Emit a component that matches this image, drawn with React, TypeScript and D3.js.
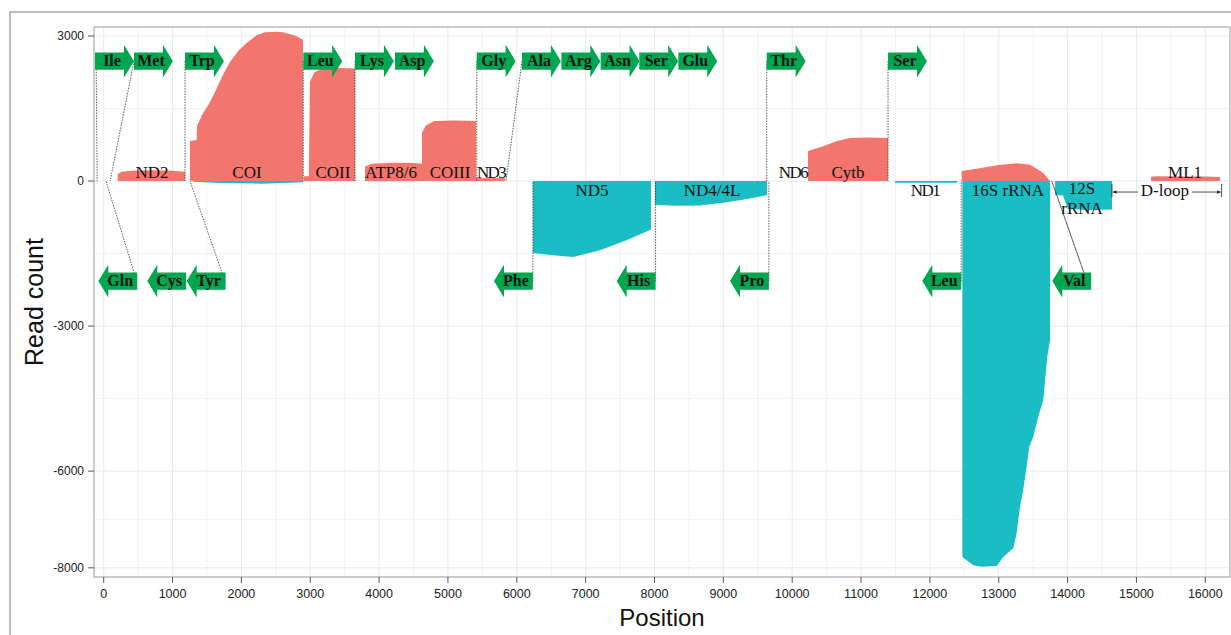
import React from 'react';
import * as d3 from 'd3';

// read coverage, [position, read count]; plus strand above zero
const nd2Plus = [[203, 140], [260, 190], [400, 215], [700, 225], [1000, 215], [1181, 190]];
const coiPlus = [[1253, 830], [1350, 850], [1355, 1140], [1442, 1400], [1530, 1600], [1620, 1850], [1733, 2200], [1834, 2460], [1960, 2700], [2081, 2860], [2227, 3020], [2343, 3080], [2500, 3090], [2604, 3075], [2778, 3010], [2895, 2920]];
const coiiPlus = [[2909, 100], [2980, 100], [2995, 2050], [3060, 2250], [3171, 2320], [3400, 2340], [3650, 2330]];
const atpPlus = [[3795, 300], [3900, 360], [4200, 380], [4500, 375], [4623, 360]];
const coiiiPlus = [[4623, 1000], [4680, 1150], [4800, 1240], [5100, 1250], [5407, 1240]];
const nd3Plus = [[5407, 60], [5828, 60]];
const cytbPlus = [[10230, 620], [10450, 720], [10650, 830], [10840, 890], [11100, 900], [11392, 890]];
const rrn16Plus = [[12462, 210], [12700, 260], [13000, 330], [13265, 370], [13454, 335], [13643, 170], [13745, 0]];
const ml1Plus = [[15212, 90], [15300, 100], [16000, 95], [16215, 85]];

// minus strand, below zero
const coiMinus = [[1300, -15], [1700, -40], [2300, -55], [2895, -25]];
const nd5Minus = [[6235, -1490], [6483, -1530], [6817, -1573], [7209, -1430], [7601, -1220], [7935, -1015], [7949, -1000]];
const nd4Minus = [[8007, -490], [8300, -510], [8661, -505], [9000, -450], [9300, -380], [9576, -310], [9634, -290]];
const nd1Minus = [[11494, -35], [12394, -35]];
const rrn16Minus = [[12471, -7774], [12631, -7945], [12752, -7980], [12970, -7965], [13066, -7774], [13211, -7594], [13260, -7283], [13308, -6739], [13356, -6393], [13444, -5497], [13502, -5290], [13574, -4877], [13647, -4531], [13705, -3635], [13745, -3300]];
const rrn12Minus = [[13818, -290], [13934, -300], [14006, -580], [14300, -600], [14645, -590]];

const plusSegments = [nd2Plus, coiPlus, coiiPlus, atpPlus, coiiiPlus, nd3Plus, cytbPlus, rrn16Plus, ml1Plus];
const minusSegments = [coiMinus, nd5Minus, nd4Minus, nd1Minus, rrn16Minus, rrn12Minus];

const xTicks = d3.range(0, 16001, 1000);
const xMinor = d3.range(500, 16400, 1000);
const yTicks = [3000, 0, -3000, -6000, -8000];
const yMinor = [1500, -1500, -4500, -7000];

// protein / rRNA labels, row: above or below the zero line
const geneLabels = [
  { name: 'ND2', pos: 703, row: 'up' },
  { name: 'COI', pos: 2081, row: 'up' },
  { name: 'COII', pos: 3330, row: 'up' },
  { name: 'ATP8/6', pos: 4173, row: 'up' },
  { name: 'COIII', pos: 5030, row: 'up' },
  { name: 'ND3', pos: 5626, row: 'up' },
  { name: 'ND5', pos: 7093, row: 'down' },
  { name: 'ND4/4L', pos: 8836, row: 'down' },
  { name: 'ND6', pos: 10011, row: 'up' },
  { name: 'Cytb', pos: 10810, row: 'up' },
  { name: 'ND1', pos: 11929, row: 'down' },
  { name: '16S rRNA', pos: 13134, row: 'down' },
  { name: '12S rRNA', pos: 14210, row: 'down' },
  { name: 'ML1', pos: 15706, row: 'up' },
];
const condensed = new Set(['ND3', 'ND6', 'ND1']);
const wrapped = new Set(['12S rRNA']);

const dloop = { start: 14645, end: 16238, mid: 15413 };

// tRNAs: forward (top row) and reverse (bottom row), start = left end
const fwdTrna = [
  { name: 'Ile', start: -126 }, { name: 'Met', start: 440 }, { name: 'Trp', start: 1181 },
  { name: 'Leu', start: 2899 }, { name: 'Lys', start: 3650 }, { name: 'Asp', start: 4231 },
  { name: 'Gly', start: 5418 }, { name: 'Ala', start: 6075 }, { name: 'Arg', start: 6648 },
  { name: 'Asn', start: 7218 }, { name: 'Ser', start: 7779 }, { name: 'Glu', start: 8346 },
  { name: 'Thr', start: 9630 }, { name: 'Ser', start: 11392 },
];
const revTrna = [
  { name: 'Gln', start: -78 }, { name: 'Cys', start: 633 }, { name: 'Tyr', start: 1205 },
  { name: 'Phe', start: 5669 }, { name: 'His', start: 7451 }, { name: 'Pro', start: 9097 },
  { name: 'Leu', start: 11890 }, { name: 'Val', start: 13778 },
];
const trnaLen = 565;
const headLen = 145;
const topRow = 2480;
const bottomRow = -2070;
const bodyHalf = 180;
const headHalf = 341;

// dotted links from tRNA arrow to genome position: [arrow x, genome x, row]
const connectors: [number, number, string][] = [
  [-110, -95, 'top'], [440, 93, 'top'], [479, 33, 'bottom'], [1181, 1181, 'top'],
  [1762, 1253, 'bottom'], [2899, 2899, 'top'], [3650, 3650, 'top'], [5418, 5418, 'top'],
  [6075, 5844, 'top'], [6234, 6234, 'bottom'], [8016, 8016, 'bottom'], [9630, 9630, 'top'],
  [9662, 9662, 'bottom'], [11392, 11392, 'top'], [12455, 12455, 'bottom'], [14280, 13770, 'bottom'],
];

const RED = '#F2756E';
const CYAN = '#19BDC3';
const GREEN = '#03A650';
const SERIF = '"Liberation Serif", "Times New Roman", serif';
const SANS = '"Liberation Sans", Arial, sans-serif';

export default function App() {
  const x = d3.scaleLinear().domain([-141, 16359]).range([94, 1230]);
  const y = d3.scaleLinear().domain([-8190, 3186]).range([577, 27]);
  const y0 = y(0);

  const area = d3.area<number[]>().x(d => x(d[0])).y0(y0).y1(d => y(d[1]));

  const fwdPath = (s: number, c: number) => {
    const pts = [
      [s, c + bodyHalf], [s + trnaLen - headLen, c + bodyHalf], [s + trnaLen - headLen, c + headHalf],
      [s + trnaLen, c], [s + trnaLen - headLen, c - headHalf], [s + trnaLen - headLen, c - bodyHalf], [s, c - bodyHalf],
    ];
    return 'M' + pts.map(p => `${x(p[0])},${y(p[1])}`).join('L') + 'Z';
  };
  const revPath = (s: number, c: number) => {
    const pts = [
      [s, c], [s + headLen, c + headHalf], [s + headLen, c + bodyHalf], [s + trnaLen, c + bodyHalf],
      [s + trnaLen, c - bodyHalf], [s + headLen, c - bodyHalf], [s + headLen, c - headHalf],
    ];
    return 'M' + pts.map(p => `${x(p[0])},${y(p[1])}`).join('L') + 'Z';
  };

  const [x0, x1] = x.range();
  const [yb, yt] = y.range();

  return (
    <svg width={1231} height={635} style={{ position: 'absolute', left: 0, top: 0, background: '#fff' }}>
      <defs>
        <marker id="ah" viewBox="0 0 10 10" refX="9" refY="5" markerWidth="5" markerHeight="5" orient="auto-start-reverse">
          <path d="M0,1L10,5L0,9Z" fill="#222" />
        </marker>
      </defs>
      <rect x={10} y={12} width={1240} height={640} fill="none" stroke="#A8A8A8" strokeWidth={1.5} />

      {/* grid */}
      {xMinor.map(v => <line key={'xm' + v} x1={x(v)} x2={x(v)} y1={yt} y2={yb} stroke="#F3F3F3" />)}
      {yMinor.map(v => <line key={'ym' + v} x1={x0} x2={x1} y1={y(v)} y2={y(v)} stroke="#F3F3F3" />)}
      {xTicks.map(v => <line key={'xg' + v} x1={x(v)} x2={x(v)} y1={yt} y2={yb} stroke="#EAEAEA" />)}
      {yTicks.map(v => <line key={'yg' + v} x1={x0} x2={x1} y1={y(v)} y2={y(v)} stroke="#EAEAEA" />)}

      {/* coverage */}
      {plusSegments.map((s, i) => <path key={'p' + i} d={area(s) || ''} fill={RED} />)}
      {minusSegments.map((s, i) => <path key={'m' + i} d={area(s) || ''} fill={CYAN} />)}

      {/* connectors */}
      {connectors.map((c, i) => (
        <line key={'c' + i} x1={x(c[0])} y1={y(c[2] === 'top' ? topRow : bottomRow)} x2={x(c[1])} y2={y0}
          stroke="#333" strokeWidth={0.8} strokeDasharray={c[0] === 14280 ? undefined : '1.5,1.2'} />
      ))}

      {/* tRNA arrows */}
      {fwdTrna.map((t, i) => (
        <g key={'f' + i}>
          <path d={fwdPath(t.start, topRow)} fill={GREEN} />
          <text x={x(t.start) + 17} y={y(topRow) + 5} textAnchor="middle" fontFamily={SERIF} fontWeight="bold" fontSize={16} fill="#111">{t.name}</text>
        </g>
      ))}
      {revTrna.map((t, i) => (
        <g key={'r' + i}>
          <path d={revPath(t.start, bottomRow)} fill={GREEN} />
          <text x={x(t.start + trnaLen) - 17} y={y(bottomRow) + 5} textAnchor="middle" fontFamily={SERIF} fontWeight="bold" fontSize={16} fill="#111">{t.name}</text>
        </g>
      ))}

      {/* gene labels */}
      {geneLabels.map(g => {
        const ly = g.row === 'up' ? y0 - 3 : y0 + 15;
        if (wrapped.has(g.name)) {
          const [a, b] = g.name.split(' ');
          return (
            <text key={g.name} x={x(g.pos)} y={ly - 2} textAnchor="middle" fontFamily={SERIF} fontSize={17} fill="#111">
              <tspan x={x(g.pos)} y={ly - 2}>{a}</tspan>
              <tspan x={x(g.pos)} y={ly + 18}>{b}</tspan>
            </text>
          );
        }
        return (
          <text key={g.name} x={x(g.pos)} y={ly} textAnchor="middle"
            fontFamily={SERIF} fontSize={17} fill="#111" letterSpacing={condensed.has(g.name) ? -1.6 : 0}>{g.name}</text>
        );
      })}

      {/* D-loop bracket */}
      <line x1={x(dloop.start)} x2={x(dloop.start)} y1={y0 + 3} y2={y0 + 16} stroke="#222" strokeWidth={0.8} />
      <line x1={x(dloop.end)} x2={x(dloop.end)} y1={y0 + 3} y2={y0 + 16} stroke="#222" strokeWidth={0.8} />
      <line x1={x(dloop.mid) - 27} x2={x(dloop.start) + 1} y1={y0 + 11} y2={y0 + 11} stroke="#222" strokeWidth={0.8} markerEnd="url(#ah)" />
      <line x1={x(dloop.mid) + 27} x2={x(dloop.end) - 1} y1={y0 + 11} y2={y0 + 11} stroke="#222" strokeWidth={0.8} markerEnd="url(#ah)" />
      <text x={x(dloop.mid)} y={y0 + 15} textAnchor="middle" fontFamily={SERIF} fontSize={17} fill="#111">D-loop</text>

      {/* panel border and axes */}
      <rect x={x0} y={yt} width={x1 - x0} height={yb - yt} fill="none" stroke="#9A9A9A" strokeWidth={1} />
      {yTicks.map(v => (
        <g key={'yt' + v}>
          <line x1={x0 - 6} x2={x0} y1={y(v)} y2={y(v)} stroke="#555" />
          <text x={x0 - 10} y={y(v) + 4} textAnchor="end" fontFamily={SANS} fontSize={12} fill="#222">{v}</text>
        </g>
      ))}
      {xTicks.map(v => (
        <g key={'xt' + v}>
          <line x1={x(v)} x2={x(v)} y1={yb} y2={yb + 6} stroke="#555" />
          <text x={x(v)} y={yb + 21} textAnchor="middle" fontFamily={SANS} fontSize={12.5} fill="#222">{v}</text>
        </g>
      ))}
      <text x={662} y={626} textAnchor="middle" fontFamily={SANS} fontSize={24} fill="#111">Position</text>
      <text transform={`translate(43,${(yt + yb) / 2}) rotate(-90)`} textAnchor="middle" fontFamily={SANS} fontSize={25} fill="#111">Read count</text>
    </svg>
  );
}
